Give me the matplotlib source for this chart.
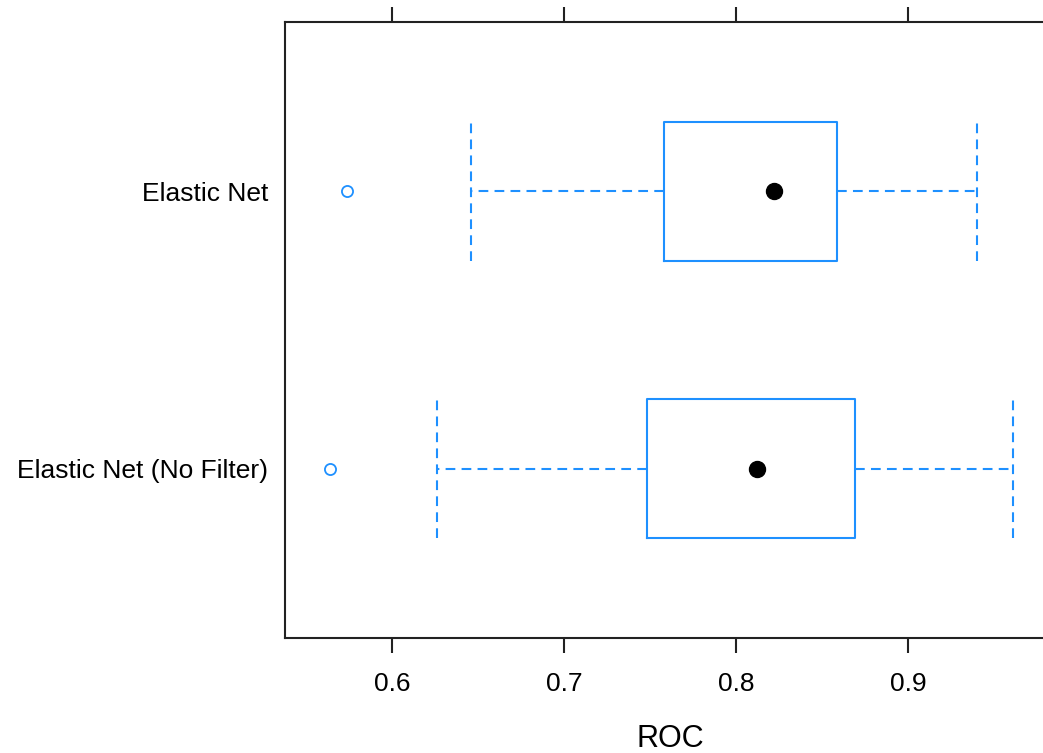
import matplotlib.pyplot as plt

plt.rcParams['font.family'] = ['Liberation Sans', 'DejaVu Sans']
plt.rcParams['lines.scale_dashes'] = False

models = ["Elastic Net (No Filter)", "Elastic Net"]
whisker_lo = [0.626, 0.646]
q1 = [0.748, 0.758]
median = [0.812, 0.822]
q3 = [0.869, 0.859]
whisker_hi = [0.961, 0.940]
outliers = [[0.564], [0.574]]

blue = "#1E90FF"
dash = (0, (7, 4.5))

fig = plt.figure(figsize=(10.43, 7.53), dpi=100)
ax = fig.add_axes([285 / 1043, 115 / 753, 770 / 1043, 616 / 753])

stats = []
for i, name in enumerate(models):
    stats.append(dict(label=name, whislo=whisker_lo[i], q1=q1[i], med=median[i],
                      q3=q3[i], whishi=whisker_hi[i], fliers=outliers[i]))

pos = list(range(1, len(models) + 1))
ax.bxp(stats, positions=pos, orientation='horizontal', widths=0.5, capwidths=0.5,
       boxprops=dict(color=blue, linewidth=1.5),
       whiskerprops=dict(color=blue, linewidth=1.5, linestyle=dash),
       capprops=dict(color=blue, linewidth=1.5, linestyle=dash),
       medianprops=dict(visible=False),
       flierprops=dict(marker='o', markersize=8, markerfacecolor='none',
                       markeredgecolor=blue, markeredgewidth=1.3))

# median shown as a filled dot, lattice style
ax.plot(median, pos, 'o', color='black', markersize=11.5, zorder=5)

ax.set_xlim(0.5378, 0.6 + (1055 - 392) / 1720)
ax.set_ylim(0.392, 2.608)
ax.set_xticks([0.6, 0.7, 0.8, 0.9])
ax.set_xticklabels(["0.6", "0.7", "0.8", "0.9"])
ax.set_yticks(pos)
ax.set_yticklabels(models)

ax.tick_params(axis='x', top=True, bottom=True, labeltop=False, direction='out',
               length=10.5, width=1.5, pad=14, labelsize=19, color='#222222')
ax.tick_params(axis='y', length=0, pad=12, labelsize=19)
for s in ax.spines.values():
    s.set_linewidth(1.5)
    s.set_color('#222222')
ax.spines['right'].set_visible(False)

ax.set_xlabel("ROC", fontsize=22, labelpad=20)

fig.savefig("out.png", dpi=100)
